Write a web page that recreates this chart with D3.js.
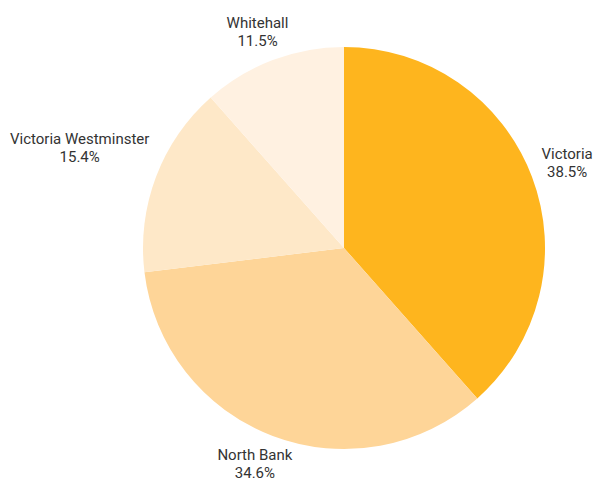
<!DOCTYPE html>
<html>
<head>
<meta charset="utf-8">
<script src="https://cdn.jsdelivr.net/npm/d3@7"></script>
<style>
  html, body { margin: 0; padding: 0; background: #fff; }
  svg { display: block; }
  text { font-family: Roboto, "Noto Sans", sans-serif; font-size: 15px; fill: #333; }
</style>
</head>
<body>
<svg id="chart" width="594" height="479"></svg>
<script>
// Station share
const categories = ["Victoria", "North Bank", "Victoria Westminster", "Whitehall"];
const values = [10, 9, 4, 3];
const colors = ["#FEB51E", "#FED598", "#FEE8C8", "#FFF1E1"];

const width = 594, height = 479;
const cx = 344, cy = 248, radius = 201;

const svg = d3.select("#chart");
const g = svg.append("g").attr("transform", `translate(${cx},${cy})`);

const total = d3.sum(values);
const data = categories.map((c, i) => ({ name: c, value: values[i], color: colors[i] }));

const pie = d3.pie().value(d => d.value).sort(null);
const arc = d3.arc().innerRadius(0).outerRadius(radius);
const arcs = pie(data);

g.selectAll("path.slice")
  .data(arcs)
  .join("path")
  .attr("class", "slice")
  .attr("d", arc)
  .attr("fill", d => d.data.color);

const fmt = d3.format(".1f");
const labelR = radius + 12;
const lineH = 18;
// vertical nudge keeps the left label clear of the slice edge
const labelShift = { "Victoria Westminster": -18, "Victoria": -3 };

arcs.forEach(a => {
  const ang = (a.startAngle + a.endAngle) / 2;
  const s = Math.sin(ang), c = Math.cos(ang);
  const px = labelR * s, py = -labelR * c;
  const t = g.append("text").attr("text-anchor", "middle");
  t.append("tspan").attr("x", 0).attr("y", 0).text(a.data.name);
  t.append("tspan").attr("x", 0).attr("y", lineH).text(fmt(a.data.value / total * 100) + "%");
  const b = t.node().getBBox();
  const bcx = px + (b.width / 2) * s;
  const bcy = py - (b.height / 2) * c + (labelShift[a.data.name] || 0);
  t.attr("transform", `translate(${bcx - (b.x + b.width / 2)},${bcy - (b.y + b.height / 2)})`);
});
</script>
</body>
</html>
